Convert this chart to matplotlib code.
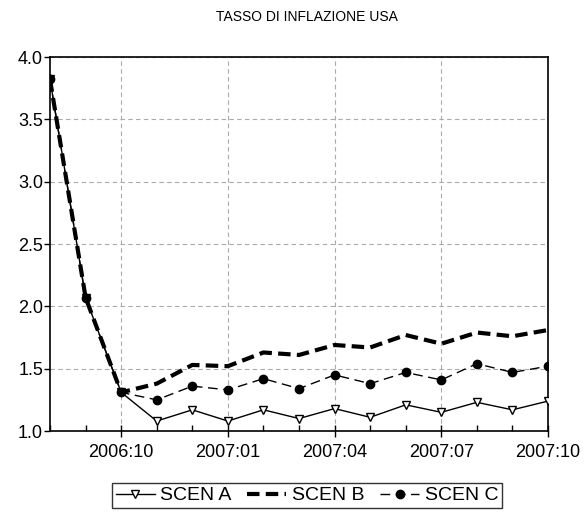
import matplotlib
matplotlib.use("Agg")
import matplotlib.pyplot as plt
from matplotlib.ticker import MultipleLocator

plt.rcParams['font.family'] = ['Liberation Sans', 'DejaVu Sans']

months = ['2006:08', '2006:09', '2006:10', '2006:11', '2006:12',
          '2007:01', '2007:02', '2007:03', '2007:04', '2007:05',
          '2007:06', '2007:07', '2007:08', '2007:09', '2007:10']

scen_a = [3.82, 2.07, 1.31, 1.08, 1.17, 1.08, 1.17, 1.10, 1.18, 1.11, 1.21, 1.15, 1.23, 1.17, 1.24]
scen_b = [3.82, 2.07, 1.31, 1.38, 1.53, 1.52, 1.63, 1.61, 1.69, 1.67, 1.77, 1.70, 1.79, 1.76, 1.81]
scen_c = [3.82, 2.07, 1.31, 1.25, 1.36, 1.33, 1.42, 1.34, 1.45, 1.38, 1.47, 1.41, 1.54, 1.47, 1.52]

tick_labels = ['2006:10', '2007:01', '2007:04', '2007:07', '2007:10']

x = list(range(len(months)))

fig = plt.figure(figsize=(5.87, 5.16), dpi=100)
ax = fig.add_axes([0.0852, 0.1647, 0.8484, 0.7248])

ax.plot(x, scen_a, color='black', linewidth=1.0, marker='v', markersize=6,
        markerfacecolor='white', markeredgecolor='black', markeredgewidth=1.0,
        label='SCEN A', zorder=3)
ax.plot(x, scen_b, color='black', linewidth=3.0, linestyle=(0, (3, 1.5)),
        label='SCEN B', zorder=4)
ax.plot(x, scen_c, color='black', linewidth=1.0, linestyle=(0, (7, 4)),
        marker='o', markersize=6, markerfacecolor='black',
        label='SCEN C', zorder=5)

ax.set_xlim(0, len(months) - 1)
ax.set_ylim(1.0, 4.0)

ax.set_xticks([months.index(t) for t in tick_labels])
ax.set_xticklabels(tick_labels, fontsize=13)
ax.set_xticks(x, minor=True)
ax.yaxis.set_major_locator(MultipleLocator(0.5))
ax.set_yticklabels([f'{v:.1f}' for v in ax.get_yticks()], fontsize=13)

ax.tick_params(axis='x', which='major', direction='inout', length=8, width=1, pad=5)
ax.tick_params(axis='x', which='minor', direction='in', length=4, width=1)
ax.tick_params(axis='y', which='major', direction='out', length=4, width=1, pad=1)

ax.grid(True, which='major', color='#aaaaaa', linestyle=(0, (4, 3)), linewidth=0.8)

for s in ax.spines.values():
    s.set_color('black')
    s.set_linewidth(1.2)

fig.text(0.523, 0.968, 'TASSO DI INFLAZIONE USA', ha='center', va='center', fontsize=10)

leg = fig.legend(loc='upper center', bbox_to_anchor=(0.523, 0.064), ncol=3, frameon=True,
                 fancybox=False, edgecolor='black', fontsize=14, handlelength=2.0,
                 handletextpad=0.3, columnspacing=0.8, borderpad=0.2, borderaxespad=0)
leg.get_frame().set_linewidth(1.0)

fig.savefig('out.png', dpi=100)
